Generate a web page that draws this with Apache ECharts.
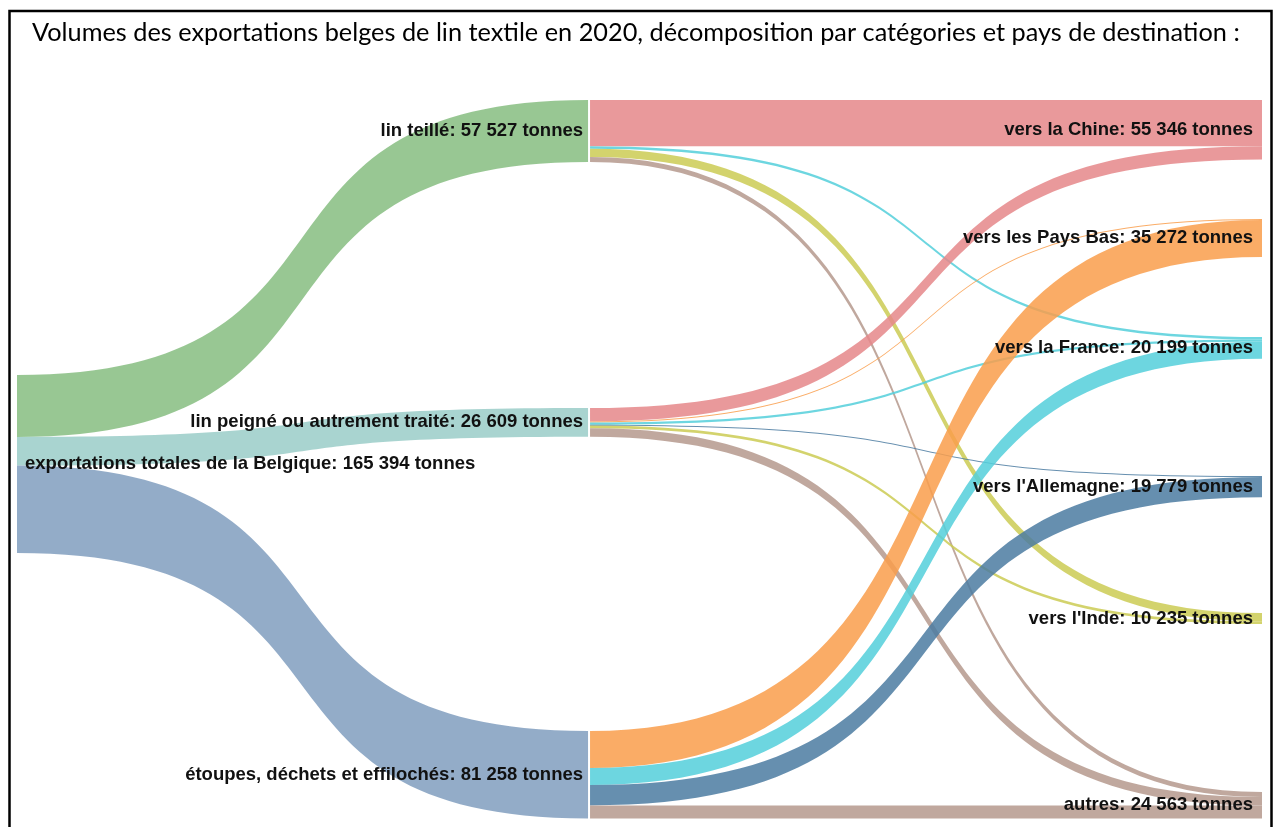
<!DOCTYPE html>
<html lang="fr">
<head>
<meta charset="utf-8">
<title>Exportations belges de lin textile 2020</title>
<script src="https://cdn.jsdelivr.net/npm/echarts@6/dist/echarts.min.js"></script>
<style>
  html, body { margin: 0; padding: 0; background: #ffffff; }
  #chart { width: 1276px; height: 827px; }
</style>
</head>
<body>
<div id="chart"></div>
<script>
// Source node
const totalName = 'exportations totales de la Belgique';
const totalValue = 165394;

// Product categories (middle column) and their tonnages
const categories = ['lin teillé', 'lin peigné ou autrement traité', 'étoupes, déchets et effilochés'];
const categoryTotals = [57527, 26609, 81258];

// Destination countries (right column) and their tonnages
const destinations = ['vers la Chine', 'vers les Pays Bas', 'vers la France', "vers l'Allemagne", "vers l'Inde", 'autres'];
const destinationTotals = [55346, 35272, 20199, 19779, 10235, 24563];

// Tonnes shipped from each category to each destination (same order as destinations)
const flowsLinTeille = [42900, 0, 2300, 0, 7700, 4627];
const flowsLinPeigne = [12446, 900, 2100, 800, 2535, 7828];
const flowsEtoupes = [0, 34372, 15799, 18979, 0, 12108];

// Colours (drawn at 85 % opacity)
const categoryColors = ['#86bd80', '#9accc8', '#809dbe'];
const destinationColors = ['#e58789', '#f99d4b', '#54cfda', '#4b7ba1', '#cbcb54', '#b5998d'];

// Vertical placement of the nodes, as a share of the plot height
const totalY = 0.383;
const categoryY = [0, 0.429, 0.8788];
const destinationY = [0, 0.1657, 0.330, 0.5237, 0.7145, 0.9638];

function fmt(v) {
  return String(Math.round(v)).replace(/\B(?=(\d{3})+(?!\d))/g, ' ');
}

const nodes = [];
nodes.push({
  name: totalName, value: totalValue, localY: totalY,
  itemStyle: { color: '#ffffff', opacity: 0 },
  label: { position: 'right', distance: 8 }
});
categories.forEach((c, i) => nodes.push({
  name: c, value: categoryTotals[i], localX: 0.4588, localY: categoryY[i],
  itemStyle: { color: categoryColors[i], opacity: 0 },
  label: { position: 'left', distance: 5 }
}));
destinations.forEach((d, i) => nodes.push({
  name: d, value: destinationTotals[i], localY: destinationY[i],
  itemStyle: { color: destinationColors[i], opacity: 0 },
  label: { position: 'left', distance: 9 }
}));

const links = [];
categories.forEach((c, i) => links.push({
  source: totalName, target: c, value: categoryTotals[i],
  lineStyle: { color: categoryColors[i] }
}));
[flowsLinTeille, flowsLinPeigne, flowsEtoupes].forEach((row, i) => {
  row.forEach((v, j) => {
    if (v > 0) links.push({
      source: categories[i], target: destinations[j], value: v,
      lineStyle: { color: destinationColors[j] }
    });
  });
});

const chart = echarts.init(document.getElementById('chart'), null, { renderer: 'canvas' });
chart.setOption({
  backgroundColor: '#ffffff',
  animation: false,
  title: {
    text: 'Volumes des exportations belges de lin textile en 2020, décomposition par catégories et pays de destination :',
    left: 27, top: 15,
    textStyle: { fontFamily: 'Lato', fontWeight: 'normal', fontSize: 25.3, color: '#000000' }
  },
  graphic: [{
    type: 'rect', silent: true, z: 100,
    shape: { x: 9.5, y: 11, width: 1262, height: 900 },
    style: { fill: 'none', stroke: '#000000', lineWidth: 2.5 }
  }],
  series: [{
    type: 'sankey',
    left: 15, right: 12, top: 100, bottom: 9,
    nodeWidth: 2,
    nodeGap: 108,
    layoutIterations: 0,
    draggable: false,
    emphasis: { disabled: true },
    data: nodes,
    links: links,
    lineStyle: { opacity: 0.85, curveness: 0.65 },
    label: {
      fontFamily: 'Liberation Sans',
      fontWeight: 'bold',
      fontSize: 18.5,
      color: '#111111',
      formatter: p => p.name + ': ' + fmt(p.value) + ' tonnes'
    }
  }]
});
</script>
</body>
</html>
